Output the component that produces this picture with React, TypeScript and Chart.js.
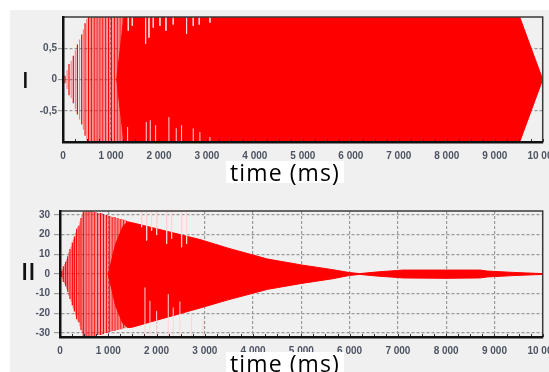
import React, { useEffect, useRef } from "react";
import { Chart, registerables } from "chart.js";
Chart.register(...registerables);

// ---------- Shared axis data ----------
const X_MIN = 0;
const X_MAX = 10000;
const X_MINOR_STEP = 250;
const X_MAJOR_STEP = 1000;

// ---------- Panel I ----------
const topYTicks = [-0.5, 0, 0.5];
// sparse early strokes (time ms, half-swing amplitude)
const topStrokeTimes = [
  42, 85, 125, 170, 215, 258, 300, 345, 390, 425, 460, 495,
  530, 560, 590, 620, 650, 680, 710, 740, 770, 800, 830, 860, 890, 920, 950, 980,
  1010, 1040, 1070, 1100, 1130, 1160, 1190, 1220, 1250, 1280,
];
const topStrokeAmps = [
  0.06, 0.15, 0.25, 0.3, 0.38, 0.47, 0.56, 0.64, 0.72, 0.8, 0.9, 0.97,
  1, 1, 1, 1, 1, 1, 1, 1, 1, 1, 1, 1, 1, 1, 1, 1,
  1, 1, 1, 1, 1, 1, 1, 1, 1, 1,
];
// dense envelope
const topEnvTimes = [1120, 1210, 1270, 9520, 10000];
const topEnvUpper = [0, 0.6, 1, 1, 0];
const topEnvLower = [0, -0.6, -1, -1, 0];
// light gaps reaching in from the top / bottom edge
const topGapUpTimes = [1361, 1444, 1722, 1792, 1882, 2021, 2146, 2298, 2576, 2715, 2840, 3063];
const topGapUpTo = [0.78, 0.86, 0.57, 0.67, 0.83, 0.86, 0.78, 0.88, 0.73, 0.86, 0.88, 0.91];
const topGapDownTimes = [1347, 1736, 1819, 1931, 2208, 2361, 2472, 2715, 2854, 3063];
const topGapDownTo = [-0.76, -0.68, -0.65, -0.73, -0.6, -0.78, -0.73, -0.78, -0.84, -0.92];

// ---------- Panel II ----------
const botYTicks = [-30, -20, -10, 0, 10, 20, 30];
const botStrokeTimes = [
  34, 52, 69, 93, 117, 138, 159, 183, 207, 231, 255, 276, 297, 321, 345, 369, 393, 414, 435, 459, 483,
  510, 540, 570, 600, 630, 660, 690, 720, 750, 780, 810, 840, 870, 900, 930, 960, 990,
  1020, 1050, 1080, 1110, 1140, 1170, 1200, 1230, 1260, 1290, 1320, 1350, 1380,
];
const botStrokeAmps = [
  1.5, 2.5, 4, 5, 6.2, 7.5, 9, 11, 12.7, 14, 16, 17.5, 19, 21, 23, 24, 24.6, 26.5, 28.4, 30, 31.8,
  32, 32, 32, 32, 32, 32, 32, 31.5, 31.5, 31, 31, 31, 31, 30.5, 30, 30, 30,
  29.5, 29.5, 29, 29, 29, 28.5, 28.5, 28, 28, 28, 27.5, 27.5, 27,
];
const botEnvTimes = [1000, 1150, 1300, 1400, 1500, 2000, 2900, 3500, 4300, 5000, 5650, 6000, 6210, 6600, 7000, 7100, 8000, 8700, 8850, 9400, 9800, 10000];
const botEnvUpper = [0, 15, 24, 26.5, 26, 23, 17.5, 13, 7.6, 4.6, 2.2, 0.7, 0.2, 1.1, 1.8, 2.0, 2.0, 2.0, 1.5, 0.8, 0.4, 0.2];
const botEnvLower = [0, -16, -25, -27.2, -27, -23.5, -17.3, -13, -7.8, -4.8, -2.4, -0.7, -0.2, -1.1, -1.8, -2.0, -2.2, -2.0, -1.5, -0.8, -0.4, -0.2];
const botGapUpTimes = [1691, 1795, 1898, 2002, 2209, 2312, 2519, 2623];
const botGapUpTo = [23.8, 17, 22, 19.8, 15.3, 18, 13.6, 15.3];
const botGapDownTimes = [1760, 1863, 2002, 2243, 2346, 2484, 2726, 2968];
const botGapDownTo = [-6.8, -13.6, -18.7, -10.2, -17, -14, -20.4, -23];

const RED = "#ff0000";
const PINK = "rgba(255,0,0,0.45)";
const GAP = "#ffd4d4";
const GRID = "#9a9a9a";
const TICK_FONT = { family: "Liberation Sans", size: 10, weight: "bold" as const };
const TICK_COLOR = "#4c5362";

type Pt = { x: number; y: number | null };

function strokes(times: number[], lo: number[], hi: number[]): Pt[] {
  const out: Pt[] = [];
  times.forEach((t, i) => {
    out.push({ x: t, y: lo[i] }, { x: t, y: hi[i] }, { x: t, y: null });
  });
  return out;
}
function env(times: number[], vals: number[]): Pt[] {
  return times.map((t, i) => ({ x: t, y: vals[i] }));
}
function fmtX(v: number): string {
  if (v % X_MAJOR_STEP !== 0) return "";
  const s = String(v);
  return s.length > 3 ? s.slice(0, s.length - 3) + " " + s.slice(-3) : s;
}

const framePlugin = {
  id: "frame",
  afterDatasetsDraw(chart: any) {
    const { ctx, chartArea: a, scales } = chart;
    ctx.save();
    ctx.strokeStyle = "#3a3a3a";
    ctx.lineWidth = 1.5;
    ctx.beginPath();
    ctx.moveTo(a.left, a.top);
    ctx.lineTo(a.right, a.top);
    ctx.lineTo(a.right, a.bottom);
    ctx.stroke();
    const xs = scales.x;
    ctx.strokeStyle = "#333";
    ctx.lineWidth = 1;
    ctx.beginPath();
    for (const t of xs.ticks) {
      const px = Math.round(xs.getPixelForValue(t.value)) + 0.5;
      ctx.moveTo(px, a.bottom);
      ctx.lineTo(px, a.bottom - 3);
    }
    ctx.stroke();
    ctx.restore();
  },
};

function makeConfig(p: {
  yMin: number; yMax: number; yTicks: number[]; yFmt: (v: number) => string;
  yWidth: number; padTop: number; tickLen: number; tickPad: number;
  strokeT: number[]; strokeA: number[];
  envT: number[]; envU: number[]; envL: number[];
  gUpT: number[]; gUpTo: number[]; gDnT: number[]; gDnTo: number[];
}) {
  const strokeData = strokes(p.strokeT, p.strokeA.map((a) => -a), p.strokeA);
  const gapUp = strokes(p.gUpT, p.gUpT.map(() => p.yMax), p.gUpTo);
  const gapDn = strokes(p.gDnT, p.gDnT.map(() => p.yMin), p.gDnTo);
  return {
    type: "line",
    data: {
      datasets: [
        { data: gapUp, borderColor: GAP, borderWidth: 1, pointRadius: 0, spanGaps: false, fill: false },
        { data: gapDn, borderColor: GAP, borderWidth: 1, pointRadius: 0, spanGaps: false, fill: false },
        {
          data: strokeData, borderWidth: 1.2, pointRadius: 0, spanGaps: false, fill: false, borderColor: RED,
          segment: { borderColor: (c: any) => (Math.floor(c.p0DataIndex / 3) % 2 ? PINK : RED) },
        },
        { data: env(p.envT, p.envU), borderColor: RED, backgroundColor: RED, borderWidth: 1, pointRadius: 0, fill: "+1" },
        { data: env(p.envT, p.envL), borderColor: RED, backgroundColor: RED, borderWidth: 1, pointRadius: 0, fill: false },
      ],
    },
    options: {
      animation: false,
      responsive: false,
      devicePixelRatio: 1,
      layout: { padding: { left: 0, right: 0, top: p.padTop, bottom: 0 } },
      plugins: { legend: { display: false }, tooltip: { enabled: false }, title: { display: false } },
      scales: {
        x: {
          type: "linear",
          min: X_MIN,
          max: X_MAX,
          afterFit: (s: any) => { s.height = 18; },
          ticks: {
            stepSize: X_MINOR_STEP, autoSkip: false, maxRotation: 0, minRotation: 0,
            padding: 8, font: TICK_FONT, color: TICK_COLOR,
            callback: (v: any) => fmtX(Number(v)),
          },
          grid: {
            drawTicks: false, lineWidth: 1.2,
            color: (c: any) => (c.tick && c.tick.value % X_MAJOR_STEP === 0 && c.tick.value > X_MIN && c.tick.value < X_MAX ? GRID : "transparent"),
          },
          border: { display: true, color: "#111", width: 2.5, dash: [3, 2], z: 1 },
        },
        y: {
          type: "linear",
          min: p.yMin,
          max: p.yMax,
          afterFit: (s: any) => { s.width = p.yWidth; },
          afterBuildTicks: (s: any) => { s.ticks = p.yTicks.map((v) => ({ value: v })); },
          ticks: { padding: p.tickPad, font: TICK_FONT, color: TICK_COLOR, callback: (v: any) => p.yFmt(Number(v)) },
          grid: { drawTicks: true, tickLength: p.tickLen, lineWidth: 1.2, color: GRID },
          border: { display: true, color: "#111", width: 2.5, dash: [3, 2], z: 1 },
        },
      },
    },
    plugins: [framePlugin],
  } as any;
}

function ChartCanvas({ config, style, w, h }: { config: any; style: React.CSSProperties; w: number; h: number }) {
  const ref = useRef<HTMLCanvasElement>(null);
  useEffect(() => {
    if (!ref.current) return;
    const c = new Chart(ref.current, config);
    return () => c.destroy();
  }, []);
  return <canvas ref={ref} width={w} height={h} style={{ position: "absolute", width: w, height: h, ...style }} />;
}

const titleStyle: React.CSSProperties = {
  position: "absolute",
  left: 226,
  width: 118,
  background: "#ffffff",
  color: "#000",
  fontFamily: "'Open Sans', sans-serif",
  fontSize: 23,
  letterSpacing: 1.1,
  lineHeight: "22px",
  textAlign: "center",
  whiteSpace: "nowrap",
};
const romanStyle: React.CSSProperties = {
  position: "absolute",
  color: "#111",
  fontFamily: "'Open Sans', sans-serif",
  fontWeight: 600,
  lineHeight: 1,
};

export default function App() {
  const topCfg = makeConfig({
    yMin: -1, yMax: 1, yTicks: topYTicks,
    yFmt: (v) => String(v).replace(".", ","),
    yWidth: 53, padTop: 6, tickLen: 5, tickPad: 1,
    strokeT: topStrokeTimes, strokeA: topStrokeAmps,
    envT: topEnvTimes, envU: topEnvUpper, envL: topEnvLower,
    gUpT: topGapUpTimes, gUpTo: topGapUpTo, gDnT: topGapDownTimes, gDnTo: topGapDownTo,
  });
  const botCfg = makeConfig({
    yMin: -32, yMax: 32, yTicks: botYTicks,
    yFmt: (v) => String(v),
    yWidth: 50, padTop: 16, tickLen: 6, tickPad: 4,
    strokeT: botStrokeTimes, strokeA: botStrokeAmps,
    envT: botEnvTimes, envU: botEnvUpper, envL: botEnvLower,
    gUpT: botGapUpTimes, gUpTo: botGapUpTo, gDnT: botGapDownTimes, gDnTo: botGapDownTo,
  });
  return (
    <div style={{ position: "fixed", left: 0, top: 0, width: 549, height: 372, overflow: "hidden", background: "#ffffff" }}>
      <div style={{ position: "absolute", left: 10, top: 10, right: 0, bottom: 0, background: "#f0f0f0" }} />
      <ChartCanvas config={topCfg} w={556} h={150} style={{ left: 10, top: 10 }} />
      <ChartCanvas config={botCfg} w={556} h={160} style={{ left: 10, top: 195 }} />
      <div style={{ ...romanStyle, left: 22, top: 68, fontSize: 22 }}>I</div>
      <div style={{ ...romanStyle, left: 21, top: 259, fontSize: 24 }}>II</div>
      <div style={{ ...titleStyle, top: 161, height: 22 }}>time (ms)</div>
      <div style={{ ...titleStyle, top: 352, height: 22 }}>time (ms)</div>
    </div>
  );
}
